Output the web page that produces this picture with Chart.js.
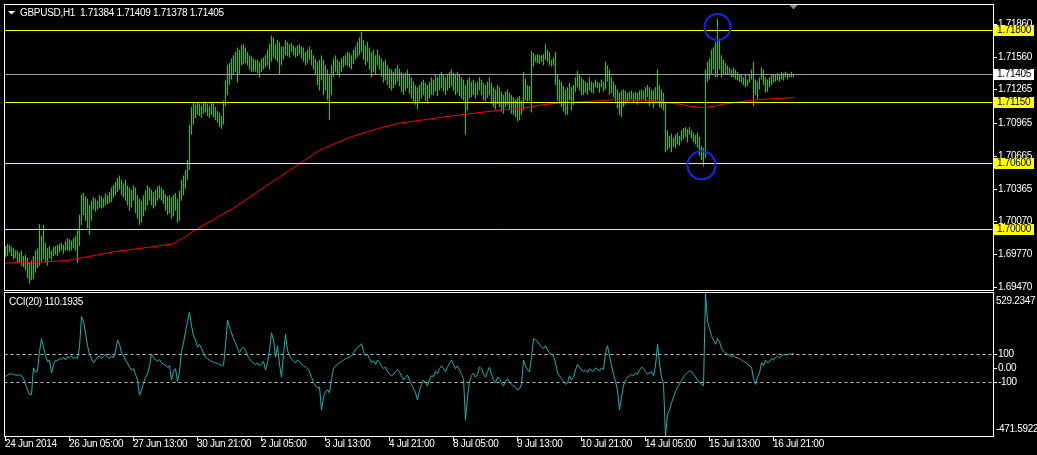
<!DOCTYPE html>
<html>
<head>
<meta charset="utf-8">
<title>GBPUSD H1</title>
<script src="https://cdn.jsdelivr.net/npm/chart.js@4.4.1/dist/chart.umd.min.js"></script>
<style>
  html, body { margin: 0; padding: 0; background: #000; }
  #wrap { position: relative; width: 1037px; height: 455px; overflow: hidden; background: #000; }
  canvas { position: absolute; left: 0; display: block; }
  #priceChart { top: 0; }
  #cciChart { top: 291px; }
</style>
</head>
<body>
<div id="wrap">
  <canvas id="priceChart" width="1037" height="291"></canvas>
  <canvas id="cciChart" width="1037" height="164"></canvas>
</div>
<script>
// values
const symbol = 'GBPUSD,H1';
const lastBar = [1.71384, 1.71409, 1.71378, 1.71405]; // open high low close

const highs = [
  1.6985,1.6987,1.6986,1.6984,1.6983,1.6981,1.6981,1.6979,1.6981,1.6976,
  1.6977,1.6974,1.6970,1.6972,1.6976,1.6981,1.6983,1.7005,1.6994,1.7004,
  1.6988,1.6983,1.6985,1.6981,1.6984,1.6985,1.6986,1.6987,1.6988,1.6986,
  1.6989,1.6992,1.6991,1.6990,1.6992,1.6994,1.6999,1.7013,1.7032,1.7033,
  1.7030,1.7028,1.7022,1.7026,1.7029,1.7028,1.7026,1.7031,1.7030,1.7028,
  1.7033,1.7031,1.7034,1.7038,1.7040,1.7043,1.7047,1.7049,1.7045,1.7042,
  1.7045,1.7040,1.7038,1.7036,1.7040,1.7038,1.7031,1.7028,1.7026,1.7031,
  1.7035,1.7040,1.7038,1.7036,1.7034,1.7036,1.7039,1.7040,1.7038,1.7036,
  1.7032,1.7030,1.7031,1.7029,1.7031,1.7033,1.7028,1.7035,1.7045,1.7049,
  1.7054,1.7063,1.7095,1.7111,1.7115,1.7113,1.7115,1.7114,1.7112,1.7115,
  1.7116,1.7114,1.7112,1.7115,1.7114,1.7111,1.7108,1.7106,1.7103,1.7117,
  1.7135,1.7149,1.7151,1.7155,1.7158,1.7161,1.7165,1.7163,1.7167,1.7168,
  1.7165,1.7161,1.7158,1.7157,1.7155,1.7154,1.7154,1.7152,1.7155,1.7156,
  1.7158,1.7163,1.7168,1.7176,1.7174,1.7168,1.7172,1.7170,1.7166,1.7166,
  1.7172,1.7170,1.7168,1.7169,1.7167,1.7165,1.7167,1.7168,1.7166,1.7165,
  1.7161,1.7163,1.7166,1.7163,1.7158,1.7155,1.7152,1.7154,1.7158,1.7154,
  1.7149,1.7145,1.7141,1.7149,1.7155,1.7158,1.7154,1.7152,1.7155,1.7157,
  1.7158,1.7161,1.7160,1.7158,1.7163,1.7166,1.7170,1.7174,1.7179,1.7172,
  1.7167,1.7170,1.7165,1.7161,1.7163,1.7158,1.7163,1.7158,1.7155,1.7152,
  1.7154,1.7149,1.7146,1.7145,1.7143,1.7146,1.7149,1.7146,1.7143,1.7140,
  1.7142,1.7145,1.7141,1.7138,1.7134,1.7131,1.7129,1.7131,1.7134,1.7136,
  1.7133,1.7131,1.7134,1.7138,1.7136,1.7140,1.7138,1.7141,1.7143,1.7140,
  1.7138,1.7140,1.7143,1.7145,1.7142,1.7140,1.7143,1.7141,1.7138,1.7136,
  1.7131,1.7136,1.7138,1.7134,1.7136,1.7133,1.7134,1.7138,1.7136,1.7133,
  1.7131,1.7134,1.7138,1.7133,1.7129,1.7127,1.7131,1.7129,1.7125,1.7122,
  1.7125,1.7127,1.7124,1.7122,1.7120,1.7118,1.7120,1.7121,1.7117,1.7143,
  1.7137,1.7131,1.7130,1.7162,1.7160,1.7158,1.7159,1.7158,1.7158,1.7159,
  1.7168,1.7163,1.7161,1.7154,1.7156,1.7161,1.7140,1.7136,1.7134,1.7130,
  1.7127,1.7129,1.7133,1.7129,1.7131,1.7138,1.7144,1.7140,1.7138,1.7136,
  1.7134,1.7133,1.7138,1.7134,1.7133,1.7136,1.7134,1.7133,1.7136,1.7134,
  1.7152,1.7149,1.7145,1.7138,1.7134,1.7131,1.7127,1.7124,1.7126,1.7127,
  1.7126,1.7124,1.7125,1.7126,1.7124,1.7125,1.7124,1.7126,1.7127,1.7126,
  1.7129,1.7131,1.7129,1.7127,1.7126,1.7129,1.7145,1.7131,1.7127,1.7124,
  1.7115,1.7090,1.7085,1.7087,1.7083,1.7086,1.7088,1.7085,1.7090,1.7092,
  1.7093,1.7091,1.7093,1.7090,1.7088,1.7086,1.7088,1.7084,1.7076,1.7074,
  1.7145,1.7152,1.7155,1.7163,1.7165,1.7170,1.7191,1.7173,1.7158,1.7154,
  1.7151,1.7149,1.7147,1.7145,1.7147,1.7145,1.7143,1.7141,1.7140,1.7138,
  1.7140,1.7136,1.7140,1.7145,1.7152,1.7136,1.7134,1.7138,1.7147,1.7145,
  1.7138,1.7136,1.7138,1.7140,1.7141,1.7140,1.7142,1.7141,1.7143,1.7142,
  1.7143,1.7142,1.7141,1.7143,1.71409
];

const lows = [
  1.6975,1.6976,1.6979,1.6976,1.6973,1.6974,1.6970,1.6970,1.6967,1.6966,
  1.6963,1.6956,1.6951,1.6954,1.6955,1.6961,1.6965,1.6967,1.6970,1.6973,
  1.6970,1.6967,1.6974,1.6972,1.6976,1.6977,1.6976,1.6979,1.6981,1.6978,
  1.6981,1.6981,1.6980,1.6981,1.6983,1.6981,1.6970,1.6985,1.7004,1.7013,
  1.7008,1.7001,1.6995,1.7008,1.7018,1.7016,1.7018,1.7020,1.7019,1.7020,
  1.7022,1.7023,1.7024,1.7025,1.7029,1.7031,1.7034,1.7036,1.7031,1.7029,
  1.7026,1.7022,1.7017,1.7020,1.7026,1.7015,1.7010,1.7004,1.7006,1.7012,
  1.7017,1.7022,1.7026,1.7022,1.7019,1.7021,1.7026,1.7028,1.7026,1.7023,
  1.7017,1.7013,1.7015,1.7010,1.7012,1.7017,1.7006,1.7008,1.7026,1.7031,
  1.7037,1.7045,1.7054,1.7086,1.7095,1.7101,1.7104,1.7103,1.7101,1.7105,
  1.7106,1.7103,1.7101,1.7104,1.7102,1.7099,1.7097,1.7093,1.7091,1.7095,
  1.7112,1.7122,1.7131,1.7136,1.7140,1.7143,1.7133,1.7140,1.7149,1.7150,
  1.7151,1.7149,1.7145,1.7143,1.7143,1.7143,1.7142,1.7138,1.7143,1.7145,
  1.7147,1.7149,1.7145,1.7152,1.7156,1.7154,1.7152,1.7140,1.7149,1.7154,
  1.7158,1.7157,1.7156,1.7161,1.7158,1.7156,1.7157,1.7159,1.7155,1.7152,
  1.7149,1.7151,1.7154,1.7149,1.7145,1.7140,1.7131,1.7126,1.7135,1.7122,
  1.7126,1.7117,1.7099,1.7122,1.7138,1.7143,1.7140,1.7138,1.7143,1.7147,
  1.7149,1.7149,1.7147,1.7145,1.7150,1.7154,1.7156,1.7158,1.7161,1.7154,
  1.7149,1.7152,1.7145,1.7138,1.7143,1.7140,1.7149,1.7145,1.7139,1.7133,
  1.7135,1.7131,1.7128,1.7126,1.7128,1.7131,1.7134,1.7130,1.7125,1.7122,
  1.7126,1.7128,1.7123,1.7119,1.7116,1.7113,1.7109,1.7116,1.7119,1.7122,
  1.7117,1.7114,1.7119,1.7122,1.7122,1.7125,1.7121,1.7126,1.7128,1.7125,
  1.7122,1.7126,1.7128,1.7130,1.7126,1.7122,1.7124,1.7121,1.7119,1.7117,
  1.7086,1.7108,1.7119,1.7120,1.7122,1.7119,1.7122,1.7126,1.7122,1.7117,
  1.7116,1.7119,1.7122,1.7114,1.7111,1.7109,1.7114,1.7111,1.7107,1.7105,
  1.7111,1.7113,1.7109,1.7105,1.7104,1.7102,1.7098,1.7099,1.7104,1.7108,
  1.7117,1.7116,1.7117,1.7106,1.7148,1.7152,1.7151,1.7150,1.7152,1.7149,
  1.7154,1.7152,1.7149,1.7148,1.7149,1.7131,1.7117,1.7114,1.7111,1.7107,
  1.7104,1.7104,1.7117,1.7108,1.7113,1.7125,1.7129,1.7126,1.7122,1.7122,
  1.7124,1.7122,1.7126,1.7124,1.7123,1.7129,1.7128,1.7124,1.7129,1.7125,
  1.7127,1.7134,1.7122,1.7124,1.7120,1.7116,1.7110,1.7104,1.7102,1.7111,
  1.7113,1.7115,1.7117,1.7118,1.7115,1.7117,1.7113,1.7117,1.7118,1.7118,
  1.7116,1.7120,1.7112,1.7116,1.7110,1.7115,1.7117,1.7111,1.7110,1.7108,
  1.7070,1.7072,1.7074,1.7070,1.7075,1.7074,1.7077,1.7076,1.7080,1.7082,
  1.7084,1.7079,1.7086,1.7083,1.7079,1.7077,1.7074,1.7067,1.7063,1.7057,
  1.7065,1.7134,1.7136,1.7140,1.7145,1.7138,1.7138,1.7145,1.7138,1.7140,
  1.7140,1.7141,1.7140,1.7138,1.7138,1.7136,1.7135,1.7134,1.7133,1.7131,
  1.7129,1.7130,1.7133,1.7136,1.7112,1.7122,1.7118,1.7127,1.7136,1.7131,
  1.7124,1.7125,1.7129,1.7131,1.7133,1.7134,1.7135,1.7134,1.7136,1.7135,
  1.7138,1.7136,1.7138,1.7138,1.71378
];

// red moving average, read at points along its path
const maBars = [0, 17, 31, 37, 47, 55, 64, 72, 84, 90, 94, 105, 113, 122, 127, 142, 157, 172, 187, 197,
  222, 247, 257, 269, 276, 288, 298, 304, 312, 322, 329, 337, 342, 349, 354, 359, 366, 372, 380, 387, 394];
const maValues = [1.69695, 1.69703, 1.69718, 1.69739, 1.69773, 1.69800, 1.69821, 1.69839, 1.69870, 1.69936,
  1.69986, 1.70100, 1.70182, 1.70291, 1.70355, 1.70536, 1.70718, 1.70836, 1.70918, 1.70964,
  1.71027, 1.71082, 1.71095, 1.71132, 1.71145, 1.71159, 1.71168, 1.71177, 1.71173, 1.71173,
  1.71155, 1.71136, 1.71118, 1.71105, 1.71118, 1.71136, 1.71155, 1.71168, 1.71182, 1.71188, 1.71197];

const cciPeriod = 20;
const cci = [
  -55, -45, -38, -35, -40, -45, -48, -42, -50, -70,
  -110, -150, -183, -180, 5, -25, -15, 120, 210, 150,
  90, 50, 60, -30, 30, 60, 55, 70, 65, 80,
  60, 85, 75, 90, 70, 80, 70, 150, 366, 330,
  250, 160, 100, 70, 40, 60, 80, 90, 70, 85,
  100, 80, 70, 90, 75, 120, 200, 170, 110, 90,
  60, 40, 10, -10, 0, -40, -80, -185, -150, -100,
  -60, -40, 20, 100, 80, 60, 50, 65, 40, 30,
  25, 10, 20, -80, -20, 0, -90, -20, 120, 180,
  260, 330, 394, 300, 230, 200, 150, 170, 140, 110,
  80, 70, 60, 50, 45, 40, 35, 30, 20, 25,
  160, 340, 290, 250, 210, 180, 140, 110, 140, 150,
  130, 90, 70, 50, 40, 30, 40, 20, 30, 50,
  -10, 40, 130, 250, 200, 80, 160, 30, -60, 100,
  240, 130, 90, 70, 50, 40, 60, 50, 30, 20,
  10, 0, -20, -60, -100, -120, -135, -130, -290, -200,
  -160, -150, -170, -70, 0, 20, 30, 40, 50, 60,
  70, 75, 80, 90, 110, 130, 150, 160, 175, 120,
  90, 100, 70, 40, 55, 30, 60, 45, 20, 0,
  10, -20, -40, -50, -40, -20, -5, -25, -50, -80,
  -60, -45, -80, -110, -140, -170, -220, -150, -110, -80,
  -100, -120, -80, -50, -55, -20, -35, 0, 20, 0,
  -20, 10, 40, 60, 30, 0, 20, -10, -40, -70,
  -360, -200, -90, -50, -30, -60, -40, 10, 0, -40,
  -60, -20, 10, -40, -80, -100, -60, -70, -100, -120,
  -90, -70, -90, -110, -120, -130, -150, -140, -110, 60,
  20, -10, -20, 80, 210, 200, 190, 170, 150, 140,
  160, 130, 110, 100, 90, 40, -30, -50, -70, -90,
  -110, -100, -50, -80, -60, -10, 30, 10, -10, -20,
  -10, -25, 0, -15, -20, 5, -5, -15, 5, -5,
  110, 160, 90, 20, -40, -90, -150, -290, -200, -120,
  -80, -60, -50, -40, -50, -30, -40, -10, 10, 0,
  -20, -40, -30, -20, -50, 20, 170, 40, -60, -110,
  -471.5922, -320, -290, -240, -200, -160, -130, -110, -80, -60,
  -40, -30, -15, -20, -40, -60, -80, -100, -110, -120,
  529.2347, 330, 280, 230, 200, 170, 210, 190, 140, 120,
  110, 100, 95, 85, 90, 80, 75, 70, 60, 50,
  45, 30, 20, 10, -70, -110, -60, -30, 40, 20,
  60, 40, 50, 70, 60, 80, 85, 75, 90, 95,
  100, 95, 105, 100, 110.1935
];

const priceTicks = [1.71860, 1.71560, 1.71265, 1.70965, 1.70665, 1.70365, 1.70070, 1.69770, 1.69470];
const levels = [1.71800, 1.71150, 1.70600, 1.70000];
const bidPrice = 1.71405;
const cciLevels = [100, -100];
const cciTicks = [100, 0, -100];

const timeLabels = ['24 Jun 2014', '26 Jun 05:00', '27 Jun 13:00', '30 Jun 21:00', '2 Jul 05:00',
  '3 Jul 13:00', '4 Jul 21:00', '8 Jul 05:00', '9 Jul 13:00', '10 Jul 21:00',
  '14 Jul 05:00', '15 Jul 13:00', '16 Jul 21:00'];
const timeStep = 32; // bars between time labels

// the two blue circles drawn on the original
const circleBars = [356, 348];
const circlePrices = [1.71836, 1.70582];
const circleRadius = [13, 14];

// layout
const VISIBLE_BARS = 494;
const PRICE_MIN = 1.694508, PRICE_MAX = 1.720358;
const PAD_LEFT = 4.5, PAD_RIGHT = 44.5;
const UI_FONT = '10px "Liberation Sans"';

function setFont(ctx) {
  ctx.font = UI_FONT;
  if ('letterSpacing' in ctx) ctx.letterSpacing = '-0.3px';
}

const row = v => Math.floor(v) + 0.5;
function hline(ctx, x1, x2, y) {
  ctx.beginPath(); ctx.moveTo(x1, y); ctx.lineTo(x2, y); ctx.stroke();
}
function blackBg(chart) {
  const { ctx, width, height } = chart;
  ctx.save(); ctx.fillStyle = '#000'; ctx.fillRect(0, 0, width, height); ctx.restore();
}

const categories = Array.from({ length: VISIBLE_BARS }, (_, i) => i);

const pricePlugin = {
  id: 'pricePlugin',
  beforeDraw: blackBg,
  afterDatasetsDraw(chart) {
    const { ctx, chartArea: a, scales: { x, y } } = chart;
    ctx.save();
    ctx.lineWidth = 1;
    ctx.strokeStyle = '#9a9a9a';
    hline(ctx, a.left, a.right, row(y.getPixelForValue(bidPrice)));
    ctx.strokeStyle = '#ffff00';
    levels.forEach(v => hline(ctx, a.left, a.right, row(y.getPixelForValue(v))));
    ctx.strokeStyle = '#1428e6';
    ctx.lineWidth = 2;
    circleBars.forEach((b, k) => {
      ctx.beginPath();
      ctx.arc(x.getPixelForValue(b), y.getPixelForValue(circlePrices[k]), circleRadius[k], 0, Math.PI * 2);
      ctx.stroke();
    });
    ctx.restore();
  },
  afterDraw(chart) {
    const { ctx, chartArea: a, scales: { x, y } } = chart;
    ctx.save();
    // frame
    ctx.strokeStyle = '#fff';
    ctx.lineWidth = 1;
    ctx.strokeRect(4.5, 4.5, Math.round(a.right) - 4, Math.round(a.bottom) - 4);
    // axis labels
    setFont(ctx);
    ctx.textBaseline = 'middle';
    ctx.textAlign = 'left';
    ctx.fillStyle = '#fff';
    const ax = Math.round(a.right);
    priceTicks.forEach(v => {
      const py = Math.floor(y.getPixelForValue(v));
      ctx.fillRect(ax + 1, py, 3, 1);
      ctx.fillText(v.toFixed(5), ax + 5, py + 0.5);
    });
    const tag = (v, bg) => {
      const py = Math.floor(y.getPixelForValue(v));
      ctx.fillStyle = bg;
      ctx.fillRect(ax + 1, py - 5, 40, 11);
      ctx.fillStyle = '#000';
      ctx.fillText(v.toFixed(5), ax + 4, py + 0.5);
    };
    tag(bidPrice, '#fff');
    levels.forEach(v => tag(v, '#ffff00'));
    // title
    ctx.fillStyle = '#fff';
    ctx.beginPath();
    ctx.moveTo(8, 11); ctx.lineTo(15, 11); ctx.lineTo(11.5, 14.5); ctx.closePath(); ctx.fill();
    ctx.fillText(symbol + '  ' + lastBar.map(v => v.toFixed(5)).join(' '), 20, 13.5);
    // chart shift marker above the last bar
    const sx = x.getPixelForValue(highs.length - 1);
    ctx.fillStyle = '#7f8c99';
    ctx.beginPath();
    ctx.moveTo(sx - 4, 5); ctx.lineTo(sx + 4, 5); ctx.lineTo(sx, 9.5); ctx.closePath(); ctx.fill();
    ctx.restore();
  }
};

new Chart(document.getElementById('priceChart'), {
  type: 'bar',
  data: {
    labels: categories,
    datasets: [
      {
        type: 'line',
        data: maBars.map((b, k) => ({ x: b, y: maValues[k] })),
        borderColor: '#ff0000',
        borderWidth: 1,
        pointRadius: 0,
        tension: 0,
        order: 1
      },
      {
        data: highs.map((h, i) => [lows[i], h]),
        backgroundColor: '#00e000',
        borderWidth: 0,
        barThickness: 1,
        inflateAmount: 0,
        order: 2
      }
    ]
  },
  options: {
    responsive: false,
    devicePixelRatio: 1,
    animation: false,
    events: [],
    layout: { padding: { left: PAD_LEFT, right: PAD_RIGHT, top: 5, bottom: 1 } },
    plugins: { legend: { display: false }, tooltip: { enabled: false } },
    scales: {
      x: { type: 'category', display: false, offset: true },
      y: { display: false, min: PRICE_MIN, max: PRICE_MAX }
    }
  },
  plugins: [pricePlugin]
});

const cciPlugin = {
  id: 'cciPlugin',
  beforeDraw: blackBg,
  beforeDatasetsDraw(chart) {
    const { ctx, chartArea: a, scales: { y } } = chart;
    ctx.save();
    ctx.strokeStyle = '#c0c0c0';
    ctx.lineWidth = 1;
    ctx.setLineDash([3, 3]);
    cciLevels.forEach(v => hline(ctx, a.left, a.right, row(y.getPixelForValue(v))));
    ctx.restore();
  },
  afterDraw(chart) {
    const { ctx, chartArea: a, scales: { x, y } } = chart;
    ctx.save();
    const ax = Math.round(a.right);
    const bottom = Math.round(a.bottom);
    ctx.strokeStyle = '#fff';
    ctx.lineWidth = 1;
    ctx.strokeRect(4.5, 1.5, ax - 4, bottom - 1);
    setFont(ctx);
    ctx.textAlign = 'left';
    ctx.textBaseline = 'middle';
    ctx.fillStyle = '#fff';
    const cciMax = Math.max(...cci), cciMin = Math.min(...cci);
    ctx.fillText(cciMax.toFixed(4), ax + 3, a.top + 8.5);
    ctx.fillText(cciMin.toFixed(4), ax + 3, a.bottom - 6.5);
    cciTicks.forEach(v => {
      const py = Math.floor(y.getPixelForValue(v));
      ctx.fillRect(ax + 1, py, 3, 1);
      ctx.fillText(v === 0 ? '0.00' : String(v), ax + 5, py + 0.5);
    });
    // indicator header
    ctx.fillText('CCI(' + cciPeriod + ') ' + cci[cci.length - 1].toFixed(4), 9, 11.5);
    // time axis
    timeLabels.forEach((t, k) => {
      const px = Math.floor(x.getPixelForValue(k * timeStep));
      ctx.fillRect(px, bottom + 1, 1, 4);
      ctx.fillText(t, px, bottom + 8.5);
    });
    ctx.restore();
  }
};

new Chart(document.getElementById('cciChart'), {
  type: 'line',
  data: {
    labels: categories,
    datasets: [{
      data: cci,
      borderColor: '#20b2aa',
      borderWidth: 1,
      pointRadius: 0,
      tension: 0
    }]
  },
  options: {
    responsive: false,
    devicePixelRatio: 1,
    animation: false,
    events: [],
    layout: { padding: { left: PAD_LEFT, right: PAD_RIGHT, top: 2, bottom: 19 } },
    plugins: { legend: { display: false }, tooltip: { enabled: false } },
    scales: {
      x: { type: 'category', display: false, offset: true },
      y: { display: false, min: Math.min(...cci), max: Math.max(...cci) }
    }
  },
  plugins: [cciPlugin]
});
</script>
</body>
</html>
